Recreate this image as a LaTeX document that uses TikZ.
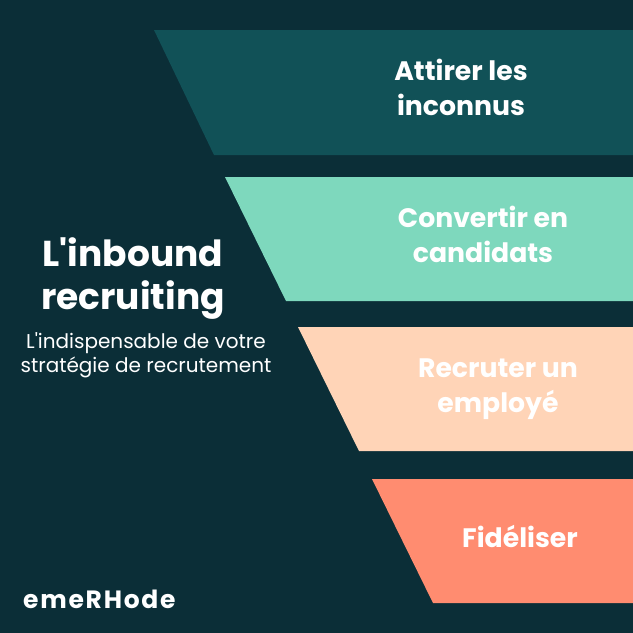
\documentclass[tikz,border=0pt]{standalone}
\usepackage{fontspec}
\setmainfont{Poppins}
\newfontfamily\logofont[LetterSpace=7]{Poppins}
\definecolor{bgc}{HTML}{0B2E37}
\definecolor{bandA}{HTML}{115157}
\definecolor{bandB}{HTML}{7ED8BD}
\definecolor{bandC}{HTML}{FFD4B7}
\definecolor{bandD}{HTML}{FF8C70}
\begin{document}
\begin{tikzpicture}[x=1pt,y=-1pt,
  bandtxt/.style={text=white,font=\fontsize{26.7}{35}\selectfont\bfseries,align=center,anchor=base,inner sep=0pt},
  titletxt/.style={text=white,font=\fontsize{36}{43}\selectfont\bfseries,align=center,anchor=base,inner sep=0pt},
  subtxt/.style={text=white,font=\fontsize{20}{24}\selectfont,align=center,anchor=base,inner sep=0pt}]
\fill[bgc] (0,0) rectangle (633,633);
\useasboundingbox (0,0) rectangle (633,633);
\fill[bandA] (154,30) -- (633,30) -- (633,155) -- (214,155) -- cycle;
\fill[bandB] (225,177) -- (633,177) -- (633,301) -- (286,301) -- cycle;
\fill[bandC] (298,327) -- (633,327) -- (633,451) -- (359,451) -- cycle;
\fill[bandD] (372,479) -- (633,479) -- (633,603) -- (433,603) -- cycle;
\node[bandtxt] (t1) at (461,115) {Attirer les\\inconnus};
\node[bandtxt] (t2) at (483,262) {Convertir en\\candidats};
\node[bandtxt] (t3) at (498,412) {Recruter un\\employé};
\node[bandtxt] (t4) at (520,547) {Fidéliser};
\node[titletxt] (title) at (133,309) {L\textquotesingle inbound\\recruiting};
\node[subtxt] (sub) at (146,372) {L\textquotesingle indispensable de votre\\stratégie de recrutement};
\node[text=white,font=\logofont\fontsize{25}{30}\selectfont\bfseries,anchor=base west,inner sep=0pt] (logo) at (23,608) {emeRHode};
\end{tikzpicture}
\end{document}
